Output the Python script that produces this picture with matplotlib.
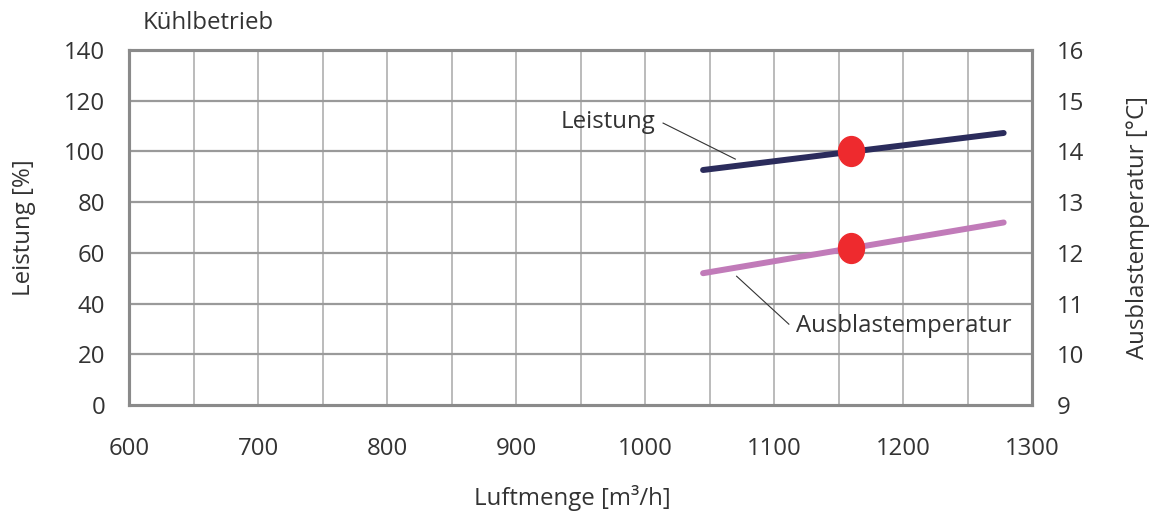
import matplotlib
matplotlib.use("Agg")
import matplotlib.pyplot as plt
from matplotlib.path import Path
from matplotlib.transforms import Affine2D
import numpy as np

plt.rcParams['font.family'] = ['Open Sans', 'DejaVu Sans']

# Data
airflow = [1045, 1278]                 # m³/h
leistung = [92.7, 107.3]               # %
ausblas_temp = [11.6, 12.6]            # °C
op_airflow = [1160]
op_leistung = [100]
op_temp = [12.1]

x_ticks = [600, 700, 800, 900, 1000, 1100, 1200, 1300]
y_left_ticks = [0, 20, 40, 60, 80, 100, 120, 140]
y_right_ticks = [9, 10, 11, 12, 13, 14, 15, 16]

text_c = '#333333'
navy = '#2b2c5c'
purple = '#c17bb9'
red = '#ee2a2e'
FS = 17.3

fig = plt.figure(figsize=(11.57, 5.16), dpi=100)
ax = fig.add_axes([0.1115, 0.215, 0.7805, 0.688])
ax2 = ax.twinx()

ax.set_xlim(600, 1300)
ax.set_ylim(0, 140)
ax2.set_ylim(9, 16)

# grid
for xv in np.arange(650, 1300, 50):
    ax.axvline(xv, color='#b5b5b5', lw=1.3, zorder=0)
for yv in y_left_ticks[1:-1]:
    ax.axhline(yv, color='#9a9a9a', lw=1.6, zorder=0)

ax.set_xticks(x_ticks)
ax.set_xticklabels([str(v) for v in x_ticks])
ax.set_yticks(y_left_ticks)
ax2.set_yticks(y_right_ticks)

for a in (ax, ax2):
    for s in a.spines.values():
        s.set_color('#8a8a8a')
        s.set_linewidth(2.2)
    a.tick_params(length=0, labelsize=FS, colors=text_c)
ax.tick_params(axis='x', pad=23)
ax.tick_params(axis='y', pad=17)
ax2.tick_params(axis='y', pad=18)

# lines
ax.plot(airflow, leistung, color=navy, lw=4.3, solid_capstyle='round', zorder=3)
ax2.plot(airflow, ausblas_temp, color=purple, lw=4.3, solid_capstyle='round', zorder=3)

ell = Path.unit_circle().transformed(Affine2D().scale(0.87, 1.0))
ax.plot(op_airflow, op_leistung, marker=ell, ms=21.5, color=red, ls='none', zorder=4)
ax2.plot(op_airflow, op_temp, marker=ell, ms=21.5, color=red, ls='none', zorder=4)

# annotations
ax.plot([1014, 1070], [111.2, 97], color='#333333', lw=0.8, zorder=2)
ax.text(1008, 111.6, 'Leistung', ha='right', va='center', fontsize=FS, color=text_c)
ax.plot([1071, 1111.5], [50.8, 31.9], color='#333333', lw=0.8, zorder=2)
ax.text(1117, 31.1, 'Ausblastemperatur', ha='left', va='center', fontsize=FS, color=text_c)

ax.set_xlabel('Luftmenge [m³/h]', fontsize=FS, color=text_c, labelpad=12)
ax.xaxis.set_label_coords(0.491, -0.225)
ax.set_ylabel('Leistung [%]', fontsize=FS, color=text_c, labelpad=20)
ax2.set_ylabel('Ausblastemperatur [°C]', fontsize=FS, color=text_c, labelpad=30)
fig.text(143/1157, 1 - 23/516, 'Kühlbetrieb', ha='left', va='center', fontsize=FS, color=text_c)

fig.savefig('out.png', dpi=100)
